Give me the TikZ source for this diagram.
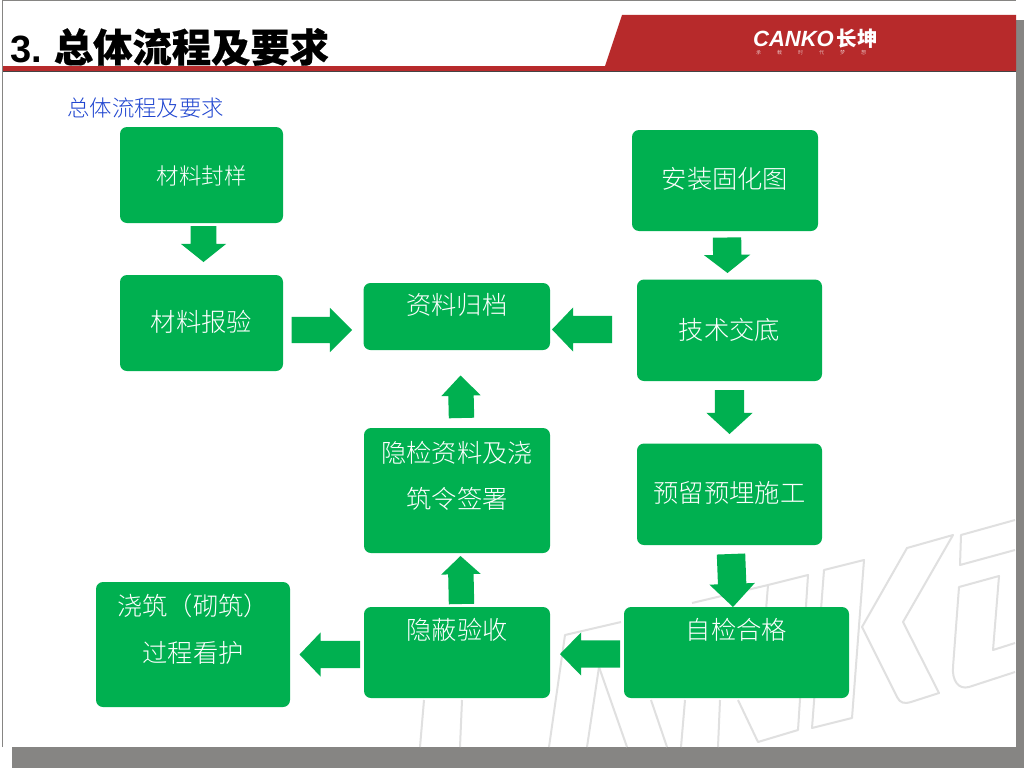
\documentclass[tikz,border=0pt]{standalone}
\usepackage{fontspec}
\usetikzlibrary{shapes.arrows}
\setmainfont{Liberation Sans}
\newfontfamily\cjk{Noto Sans CJK SC Light}
\newfontfamily\cjkreg{Noto Sans CJK SC}
\newfontfamily\cjktitle[FakeBold=0.5]{Noto Sans CJK SC}
\definecolor{gboxc}{HTML}{00B050}
\definecolor{shadowc}{HTML}{868583}
\definecolor{redc}{HTML}{B72A2B}
\definecolor{darkc}{HTML}{444444}
\definecolor{wmc}{HTML}{E0E0E0}
\definecolor{bluec}{HTML}{1F45D0}
\newcommand{\upone}[2]{\raisebox{\dimexpr #1pt-9.5pt\relax}[0pt][0pt]{#2}}
\newcommand{\uptwo}[3]{\raisebox{\dimexpr #1pt\relax}[0pt][0pt]{\parbox[c]{170pt}{\centering\baselineskip=#2pt #3}}}
\newcommand{\gbox}[6]{% name, x1,y1,x2,y2, text
  \pgfmathsetmacro{\cxv}{(#2+#4)/2}\pgfmathsetmacro{\cyv}{(#3+#5)/2}%
  \pgfmathsetmacro{\wv}{#4-#2}\pgfmathsetmacro{\hv}{#5-#3}%
  \node[greenbox,minimum width=\wv pt,minimum height=\hv pt] (#1) at (\cxv,\cyv) {#6};}
\newcommand{\garrow}[8]{% name, tailx,taily,tipx,tipy,shaft,head,headlen
  \pgfmathsetmacro{\alen}{veclen(#4-#2,#5-#3)}%
  \pgfmathsetmacro{\arot}{atan2(-(#5-#3),#4-#2)}%
  \pgfmathsetmacro{\aext}{(#7-#6)/2}%
  \pgfmathsetmacro{\atip}{2*atan((#7/2)/#8)}%
  \node[blockarrow,anchor=tip,minimum height=\alen pt,single arrow head extend=\aext pt,single arrow tip angle=\atip,rotate=\arot] (#1) at (#4,#5) {\rule{0pt}{#6pt}};}
\tikzset{
  greenbox/.style={fill=gboxc,rounded corners=7pt,inner sep=0pt,outer sep=0pt,text=white,font=\cjk\fontsize{25.3}{30}\selectfont},
  blockarrow/.style={single arrow,fill=gboxc,inner sep=0pt,outer sep=0pt,single arrow head indent=0pt},
  wmline/.style={draw=wmc,line width=2pt,line join=round},
}
\begin{document}
\begin{tikzpicture}[x=1pt,y=-1pt]
\useasboundingbox (0,0) rectangle (1024,768);
\fill[white] (0,0) rectangle (1024,768);
\fill[shadowc] (12,20) rectangle (1024,768);
\fill[white] (3,1) rectangle (1016,747);
\draw[shadowc,line width=1pt] (2.5,747) -- (2.5,0.5) -- (1016,0.5);
% watermark
\draw[wmline] (907,548) -- (953,535) -- (903,622) -- (939,693) -- (911,702) .. controls (904,704) and (900,703) .. (897,697) -- (862,627) -- cycle;
\draw[wmline] (824,570) -- (864,560) -- (852,718) -- (812,728) -- cycle;
\draw[wmline] (692,603) -- (768,585) -- (766,610);
\draw[wmline] (768,585) -- (808,575) -- (798,730) -- (758,742) -- (738,700);
\draw[wmline] (651,700) -- (667,747);
\draw[wmline] (685,700) -- (681,747);
\draw[wmline] (720,700) -- (718,747);
\draw[wmline] (621,622) -- (565,635) -- (549,747);
\draw[wmline] (599,667) -- (587,747);
\draw[wmline] (599,667) -- (627,747);
\draw[wmline] (424,700) -- (420,747);
\draw[wmline] (462,700) -- (460,747);
\draw[wmline] (1015,520) -- (961,535) -- (960,565) -- (1015,550);
\draw[wmline] (1015,643) -- (993,650) -- (999,576) -- (959,587) -- (953,667) .. controls (952,680) and (958,690) .. (969,687) -- (1015,672);
% header
\fill[redc] (622,15) -- (1016,15) -- (1016,71) -- (3,71) -- (3,66) -- (605,66) -- cycle;
\fill[darkc] (3,70.5) rectangle (1016,72);
\node[anchor=west,inner sep=0pt,font=\bfseries\fontsize{38}{40}\selectfont] (title) at (10,47) {3.\hspace{12pt}{\cjktitle\fontsize{39.3}{40}\selectfont 总体流程及要求}};
\node[anchor=center,inner sep=0pt,text=white,font=\bfseries\itshape\fontsize{22}{22}\selectfont] (logo) at (815.5,39) {CANKO\hspace{3pt}{\cjkreg\fontsize{20.5}{22}\selectfont 长坤}};
\node[anchor=center,inner sep=0pt,text=white,font=\cjk\fontsize{5}{6}\selectfont] (slogan) at (811,53) {承\hspace{16pt}载\hspace{16pt}时\hspace{16pt}代\hspace{16pt}梦\hspace{16pt}想};
\node[anchor=west,inner sep=0pt,text=bluec,font=\cjk\fontsize{22.4}{24}\selectfont] (sub) at (67,108) {总体流程及要求};
% boxes
\gbox{b1}{120}{127}{283}{223}{\fontsize{22.5}{26}\selectfont\upone{0}{材料封样}}
\gbox{b2}{120}{275}{283}{371}{\upone{1}{材料报验}}
\gbox{b3}{363.5}{283}{550}{350}{\upone{11.5}{资料归档}}
\gbox{b4}{632}{130}{818}{231}{\upone{1.5}{安装固化图}}
\gbox{b5}{637}{279.5}{822}{381}{\upone{0}{技术交底}}
\gbox{b6}{637}{443.5}{822}{545}{\upone{1}{预留预埋施工}}
\gbox{b7}{624}{607}{849}{698}{\upone{22.5}{自检合格}}
\gbox{b8}{364}{607}{550}{698}{\upone{22.5}{隐蔽验收}}
\gbox{b9}{364}{428}{550}{553}{\uptwo{8.5}{45.5}{隐检资料及浇\\筑令签署}}
\gbox{b10}{96}{582}{290}{707}{\uptwo{9.5}{47}{浇筑（砌筑）\\过程看护}}
% block arrows
\garrow{a1}{203.5}{226}{203.5}{262}{25.5}{45}{18}
\garrow{a2}{291.5}{330}{352}{330}{26}{44}{22}
\garrow{a3}{612}{329.5}{552}{329.5}{27}{44}{21}
\garrow{a4}{727}{237.5}{727.5}{273}{28}{46}{18}
\garrow{a5}{729.5}{390}{729.5}{434}{29}{46}{21}
\garrow{a6}{461.5}{418}{460.5}{375.5}{25}{39}{20}
\garrow{a7}{461.5}{604}{460.5}{556}{25}{39}{18}
\garrow{a8}{620}{654}{560}{654}{27}{43}{21}
\garrow{a9}{360}{654.5}{299.5}{654.5}{27}{44}{21}
\garrow{a10}{731}{554}{733}{607}{28}{45}{23}
\end{tikzpicture}
\end{document}
